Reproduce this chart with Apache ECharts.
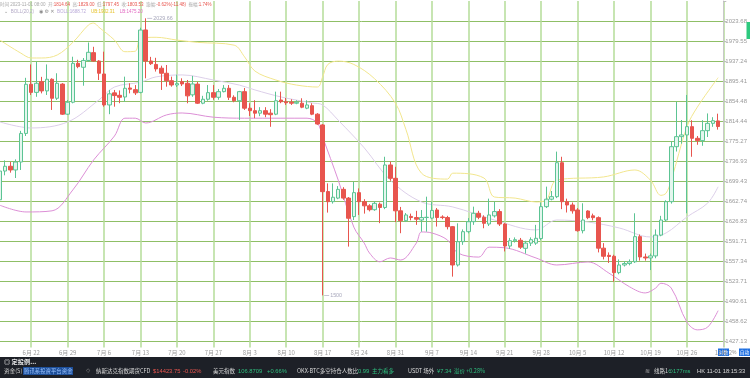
<!DOCTYPE html>
<html>
<head>
<meta charset="utf-8">
<script src="https://cdn.jsdelivr.net/npm/echarts@6/dist/echarts.min.js"></script>
<style>
html, body { margin: 0; padding: 0; background: #fff; }
#main { width: 750px; height: 378px; }
</style>
</head>
<body>
<div id="main"></div>
<script>
// y tick labels (log scale)
var yTicks = ['1427.13', '1458.62', '1490.61', '1523.71', '1557.34', '1591.71', '1626.83', '1662.74',
    '1699.43', '1736.93', '1775.27', '1814.44', '1854.48', '1895.41', '1937.24', '1979.55', '2023.68'];

// daily candles from 2023-06-16, [open, close, low, high]
var candles = [
    [1665, 1718, 1650, 1730], [1718, 1727, 1710, 1738], [1727, 1720, 1715, 1735], [1720, 1735, 1705, 1740],
    [1735, 1790, 1720, 1795], [1790, 1888.6, 1785, 1902], [1888.6, 1872, 1866.7, 1930], [1872, 1890.7, 1863, 1935.8],
    [1894, 1875, 1870, 1904], [1875, 1899, 1866.7, 1930], [1899, 1860, 1836.5, 1901], [1860, 1890.7, 1856.5, 1911.5],
    [1889, 1828, 1826.5, 1891], [1828, 1852, 1826.5, 1856.5], [1852, 1932.3, 1849.8, 1946.3], [1932.3, 1925.4, 1922, 1939.8],
    [1924, 1938.4, 1885.7, 1943.5], [1938.4, 1955.7, 1935.8, 1976.8], [1955, 1937.2, 1935.8, 1967.5], [1937.2, 1911.5, 1897.5, 1939],
    [1910, 1846.5, 1843, 1957], [1846.5, 1869, 1828, 1877], [1871, 1865.5, 1843, 1877], [1866, 1862, 1850, 1876],
    [1862.6, 1880.4, 1853, 1904.4], [1881, 1878.5, 1870, 1890.7], [1877.6, 1871, 1866.7, 1887], [1872, 2003.8, 1870, 2008.9],
    [2004, 1937.2, 1901, 2029.66], [1937.2, 1931.6, 1928.8, 1946], [1930, 1920.6, 1915, 1944], [1922, 1911.5, 1877, 1927.4],
    [1911.5, 1896, 1883.7, 1928.8], [1896, 1887.2, 1883.7, 1904.4], [1887.2, 1890, 1883, 1908.6], [1894, 1889.3, 1885, 1901],
    [1890.7, 1864.9, 1849.9, 1897.5], [1867, 1889.3, 1863, 1906], [1889, 1850, 1848.5, 1893.4], [1850, 1858, 1848, 1865],
    [1858, 1871.5, 1855, 1887], [1871.5, 1862, 1857, 1887], [1862, 1873.5, 1857, 1879], [1873.5, 1880.4, 1872, 1887],
    [1880.4, 1862, 1856.5, 1887], [1862, 1855, 1852, 1866], [1855, 1873.5, 1816.4, 1875], [1873.5, 1840, 1836.5, 1881],
    [1840, 1835, 1824.4, 1850], [1835, 1830, 1820, 1856], [1830, 1835, 1824, 1842], [1835, 1828, 1822, 1842],
    [1830, 1827, 1803, 1838], [1828, 1855, 1826, 1873.5], [1856.5, 1853, 1850, 1873.5], [1853, 1851, 1846.5, 1860.6],
    [1852, 1850, 1846.5, 1858], [1850, 1852, 1848, 1856], [1850, 1842, 1840, 1860], [1840, 1846.5, 1838, 1856],
    [1845, 1828, 1826, 1850], [1828, 1808.5, 1807, 1830], [1806.6, 1679.8, 1500, 1808.5], [1680, 1661.5, 1641.8, 1695],
    [1661.5, 1669.6, 1658, 1695], [1668, 1684, 1666, 1690], [1684, 1668, 1665, 1688], [1668, 1631.7, 1582, 1670],
    [1634.6, 1678, 1628.6, 1698], [1678, 1661.5, 1637.6, 1685.8], [1661.5, 1654, 1640, 1666], [1654, 1647, 1644, 1657],
    [1647, 1658.5, 1645, 1662], [1657, 1651, 1623, 1660], [1651, 1729.4, 1648, 1745], [1729.4, 1704.4, 1700, 1735.6],
    [1704.4, 1645, 1625, 1726], [1645, 1627.4, 1605.3, 1652], [1627.4, 1637.6, 1625, 1641], [1635, 1633, 1628, 1640],
    [1633, 1630, 1620, 1645], [1628.6, 1633, 1608, 1646.5], [1633, 1633.5, 1608, 1670.6], [1632, 1645.7, 1630, 1661.5],
    [1646.5, 1633, 1617, 1650], [1634, 1633, 1630, 1637], [1633, 1616.8, 1612, 1636], [1616.8, 1550.6, 1531, 1618],
    [1550.6, 1590.5, 1548, 1622.7], [1590.5, 1608, 1585, 1612], [1608, 1625.6, 1605, 1632], [1625.6, 1640.6, 1620, 1652.5],
    [1640.6, 1633.5, 1630, 1645], [1633.5, 1622.7, 1614, 1637], [1621.5, 1637.6, 1618, 1667], [1636, 1643.7, 1633, 1661.5],
    [1643.7, 1621.5, 1618, 1648], [1621.5, 1583, 1573.7, 1623], [1583, 1592.2, 1578, 1597], [1592, 1594, 1589, 1598],
    [1593, 1581, 1578, 1597], [1579, 1588, 1570, 1592], [1588, 1594, 1583, 1598], [1588, 1596.4, 1585, 1620],
    [1596, 1652.5, 1593, 1660], [1652.5, 1666, 1650, 1689], [1666, 1670.6, 1664, 1681], [1670.6, 1733.7, 1668, 1754.8],
    [1733.7, 1661.5, 1648, 1745], [1661.5, 1655.5, 1642, 1667], [1655.5, 1645, 1640, 1660], [1646.5, 1609.7, 1608, 1650],
    [1609.7, 1628.6, 1605, 1658.6], [1644.7, 1632.8, 1630, 1646], [1636, 1632.8, 1628, 1640], [1632.8, 1579.3, 1572, 1635],
    [1579.3, 1565.4, 1560, 1588], [1567, 1565, 1554, 1572], [1565.4, 1537.7, 1522.5, 1568], [1537.7, 1550.6, 1535, 1560],
    [1550.6, 1553, 1548, 1557], [1553, 1556, 1550, 1560], [1556, 1599.3, 1554, 1640.6], [1599.3, 1564.2, 1558, 1603],
    [1564.2, 1562.5, 1558, 1570], [1562.5, 1566, 1542, 1570], [1566, 1602, 1562, 1612], [1602, 1628.6, 1600, 1636],
    [1628.6, 1661.5, 1626, 1664], [1661.5, 1764.3, 1658, 1775], [1764.3, 1783.7, 1755, 1853], [1783.7, 1787, 1770, 1816.4],
    [1787, 1803.3, 1640.6, 1866.7], [1803.3, 1780.5, 1745, 1816], [1780.5, 1776, 1768, 1785], [1776, 1795.4, 1766, 1816],
    [1795.4, 1809.8, 1783, 1829.5], [1809.8, 1815, 1803, 1822], [1814.64, 1803.53, 1797.45, 1829]
];

// Bollinger lines, [day index, price]
var bollUp = [[0, 1981.7], [4, 1954], [6, 1943.6], [8, 1943.6], [11, 1950], [14, 1977], [17, 2015], [18, 2019],
    [19, 2010], [22, 1982], [24, 1957], [26, 1958], [27, 1986], [30, 1988], [34, 1982], [38, 1977], [45, 1971],
    [47, 1946], [49, 1916], [53, 1897.5], [57, 1887], [61, 1883], [62, 1904], [63, 1930], [65, 1937], [68, 1930],
    [72, 1900], [76, 1850], [78, 1798], [81, 1714], [86, 1703], [87, 1714], [93, 1705], [95, 1670], [99, 1668],
    [103, 1661], [105, 1665], [107, 1701], [116, 1707], [122, 1720], [125, 1701], [127, 1673], [128, 1677],
    [129, 1701], [132, 1803], [134, 1842], [138, 1902.31]];
var bollMid = [[0, 1812.5], [6, 1800.7], [13, 1812.5], [19, 1856.5], [22, 1883], [27, 1893], [30, 1904], [35, 1908],
    [41, 1897.5], [46, 1887], [49, 1877], [54, 1862.7], [60, 1850.5], [62, 1846.5], [65, 1816], [70, 1762], [75, 1701],
    [81, 1661], [87, 1652], [95, 1628.6], [103, 1611], [107, 1628.6], [113, 1625], [119, 1614.5], [125, 1598.7],
    [128, 1605.7], [132, 1634], [136, 1659], [138, 1688.72]];
var bollLow = [[0, 1655], [5, 1643], [10, 1645], [14, 1683], [18, 1739], [22, 1785], [24, 1820], [26, 1820],
    [28, 1810.5], [32, 1826.5], [35, 1830.4], [41, 1822], [47, 1820], [54, 1820], [59, 1820], [61, 1810.5], [62, 1783],
    [65, 1701], [68, 1616], [70, 1588], [71, 1571], [73, 1556], [75, 1562.5], [77, 1559], [80, 1588], [81, 1607.5],
    [83, 1605.7], [86, 1593.4], [88, 1571], [92, 1564], [94, 1581], [97, 1580], [103, 1562.5], [107, 1550.6],
    [113, 1555.7], [117, 1537], [121, 1514], [124, 1504], [126, 1512], [127, 1520], [129, 1512], [132, 1457],
    [134, 1444.6], [136, 1449], [138, 1475.2]];

var lastClose = 1803.53;
var highMark = [28, 2029.66];
var lowMark = [62, 1500];

// one category per day, plus one empty day at the right edge
var dates = [];
for (var d = 0; d < candles.length + 1; d++) {
    var t = new Date(2023, 5, 16 + d);
    dates.push((t.getMonth() + 1) + '月 ' + t.getDate());
}

// log scale: one axis unit per tick step
var base = parseFloat(yTicks[0]);
var step = Math.log(parseFloat(yTicks[16]) / base) / 16;
function toU(p) { return Math.log(p / base) / step; }

var weekly = function (idx) { return idx % 7 === 6; };
var FONT = 'Noto Sans CJK SC';
var NUMFONT = 'Liberation Sans';
var RED = '#e8554e';
var GREEN = '#2fbf7f';

function txt(x, y, s, color, size, family, weight) {
    return { type: 'text', x: x, y: y, z: 52, silent: true,
        style: { text: s, fill: color, fontSize: size || 5.2, fontFamily: family || FONT,
            fontWeight: weight || 'normal', verticalAlign: 'middle', align: 'left' } };
}
function richTxt(x, y, s, size, rich) {
    return { type: 'text', x: x, y: y, z: 52, silent: true,
        style: { text: s, fontSize: size, fontFamily: NUMFONT, verticalAlign: 'middle', align: 'left', rich: rich } };
}
var headRich = {
    g: { fill: '#a8a8a8', fontSize: 4.5, fontFamily: FONT },
    n: { fill: '#a8a8a8', fontSize: 4.5, fontFamily: NUMFONT },
    r: { fill: RED, fontSize: 4.5, fontFamily: NUMFONT },
    i: { fill: '#8c8c8c', fontSize: 5, fontFamily: 'DejaVu Sans' },
    m: { fill: '#b3aac6', fontSize: 4.5, fontFamily: NUMFONT },
    b: { fill: '#b8a8d8', fontSize: 4.5, fontFamily: NUMFONT },
    u: { fill: '#e6c22a', fontSize: 4.5, fontFamily: NUMFONT },
    l: { fill: '#e26ac2', fontSize: 4.5, fontFamily: NUMFONT }
};

var myChart = echarts.init(document.getElementById('main'), null, { renderer: 'canvas' });
var option = {
    backgroundColor: '#fff',
    animation: false,
    grid: { left: 0, right: 25, top: 1, bottom: 17, containLabel: false },
    xAxis: [
        {
            type: 'category', data: dates, boundaryGap: false, position: 'bottom',
            axisLine: { show: false }, axisTick: { show: false }, axisLabel: { show: false },
            splitLine: { show: true, interval: weekly, lineStyle: { color: '#b4dc98', width: 1.5 } }
        },
        {
            type: 'category', data: dates, boundaryGap: false, position: 'bottom', offset: 0, z: 60,
            axisLine: { show: false }, axisTick: { show: false }, splitLine: { show: false },
            axisLabel: { show: true, inside: true, margin: 5, interval: weekly, color: '#9a9a9a', fontSize: 6, fontFamily: FONT }
        }
    ],
    yAxis: {
        type: 'value', position: 'right', min: -1, max: 17, interval: 1,
        axisLine: { show: true, lineStyle: { color: '#c8c8c8' } },
        axisTick: { show: true, length: 3, lineStyle: { color: '#bdbdbd' } },
        axisLabel: {
            margin: 2, color: '#9a9a9a', fontSize: 6, fontFamily: NUMFONT,
            formatter: function (v) { var s = yTicks[Math.round(v)]; return s || ''; }
        },
        splitLine: { show: true, showMaxLine: false, lineStyle: { color: '#8fbf66', width: 1 } }
    },
    series: [
        {
            name: 'UB', type: 'line', data: bollUp.map(function (r) { return [r[0], toU(r[1])]; }),
            smooth: 0.35, showSymbol: false, lineStyle: { color: '#f2e68e', width: 1 }, z: 3
        },
        {
            name: 'BOLL', type: 'line', data: bollMid.map(function (r) { return [r[0], toU(r[1])]; }),
            smooth: 0.35, showSymbol: false, lineStyle: { color: '#dccfe9', width: 1 }, z: 3
        },
        {
            name: 'LB', type: 'line', data: bollLow.map(function (r) { return [r[0], toU(r[1])]; }),
            smooth: 0.35, showSymbol: false, lineStyle: { color: '#dc8fd6', width: 1 }, z: 3
        },
        {
            name: 'K', type: 'candlestick', barWidth: 4, z: 4,
            data: candles.map(function (r) { return [toU(r[0]), toU(r[1]), toU(r[2]), toU(r[3])]; }),
            itemStyle: { color: '#e4f6ee', borderColor: '#5cc494', color0: RED, borderColor0: RED, borderWidth: 1 },
            markPoint: {
                symbol: 'rect', symbolSize: [5, 0.8], symbolOffset: [4, 0], silent: true,
                itemStyle: { color: '#b5b5c8' },
                label: { show: true, position: 'right', distance: 1, color: '#a8a8bc', fontSize: 5.4, fontFamily: NUMFONT },
                data: [
                    { coord: [highMark[0], toU(highMark[1])], label: { formatter: String(highMark[1]) } },
                    { coord: [lowMark[0], toU(lowMark[1])], label: { formatter: String(lowMark[1]) } }
                ]
            },
            markLine: {
                symbol: ['none', 'none'], silent: true, animation: false,
                lineStyle: { opacity: 0 },
                label: {
                    show: true, position: 'end', distance: 0, formatter: lastClose.toFixed(2),
                    color: '#fff', backgroundColor: '#ea5a55', padding: [1, 3, 1, 3], fontSize: 6,
                    fontFamily: NUMFONT
                },
                data: [{ yAxis: toU(lastClose) }]
            }
        }
    ],
    graphic: [
        // label strip and dark status bar
        { type: 'rect', z: 50, silent: true, shape: { x: 0, y: 347.5, width: 750, height: 10 }, style: { fill: '#fff' } },
        { type: 'rect', z: 50, silent: true, shape: { x: 0, y: 357, width: 750, height: 21 }, style: { fill: '#1d2027' } },
        { type: 'rect', z: 50, silent: true, shape: { x: 746.5, y: 22, width: 3.5, height: 17 }, style: { fill: '#2dc97e' } },
        // header lines
        richTxt(0, 4.5, '{g|时间} {n|2023-11-01 08:00}  {g|开:}{r|1814.64}  {g|高:}{r|1829.00}  {g|低:}{r|1797.45}  ' +
            '{g|收:}{r|1803.53}  {g|涨幅:}{r|-0.62%(-11.48)}  {g|振幅:}{r|1.74%}', 4.5, headRich),
        richTxt(4, 12, '{i|⌄}  {m|BOLL(20,2)}    {i|◉} {i|⚙} {i|✕}  {b|BOLL:1688.72}    {u|UB:1902.31}    {l|LB:1475.20}', 4.5, headRich),
        // scale buttons
        { type: 'rect', z: 51, silent: true, shape: { x: 718, y: 348.5, width: 11, height: 7.5 }, style: { fill: '#1f6fe0' } },
        txt(718.8, 352.3, '对数', '#fff', 4.8), txt(732, 352.3, '%', '#8a8a8a', 5, NUMFONT),
        { type: 'rect', z: 51, silent: true, shape: { x: 739, y: 348.5, width: 11, height: 7.5 }, style: { fill: '#1f6fe0' } },
        txt(739.8, 352.3, '自动', '#fff', 4.8),
        // status bar line 1
        txt(4, 361.5, '◎ 定投例...', '#e8e8e8', 6.2, FONT, 'bold'),
        // status bar line 2
        txt(4, 371, '资金(S)', '#c9c9c9', 5.6),
        { type: 'rect', z: 51, silent: true, shape: { x: 23, y: 367, width: 50, height: 8 }, style: { fill: '#1d4f9a' } },
        txt(24, 371, '腾讯系投资平台资金', '#9cc4ff', 5.4),
        txt(86, 371, '◇', '#8a8a8a', 5.5, 'DejaVu Sans'), txt(96, 371, '纳斯达克指数期货CFD', '#d8d8d8', 5.5),
        txt(153, 371, '$14423.75', RED, 5.8, NUMFONT), txt(183, 371, '-0.02%', RED, 5.8, NUMFONT),
        txt(213, 371, '美元指数', '#d8d8d8', 5.5), txt(238, 371, '106.8709', GREEN, 5.8, NUMFONT),
        txt(267, 371, '+0.66%', GREEN, 5.8, NUMFONT),
        txt(297, 371, 'OKX-BTC多空持仓人数比', '#d8d8d8', 5.5), txt(358, 371, '0.99', GREEN, 5.8, NUMFONT),
        txt(372, 371, '主力看多', GREEN, 5.5),
        txt(408, 371, 'USDT 场外', '#d8d8d8', 5.5), txt(437, 371, '¥7.34', GREEN, 5.8, NUMFONT),
        txt(454, 371, '溢价 +0.28%', GREEN, 5.5),
        txt(645, 371, '≋', '#b0b0b0', 6, 'DejaVu Sans'), txt(654, 371, '线路1 :', '#d8d8d8', 5.5),
        txt(668, 371, '⊙177ms', GREEN, 5.8, NUMFONT),
        txt(697, 371, 'HK 11-01 18:15:33', '#d8d8d8', 5.8, NUMFONT)
    ]
};
myChart.setOption(option);
</script>
</body>
</html>
